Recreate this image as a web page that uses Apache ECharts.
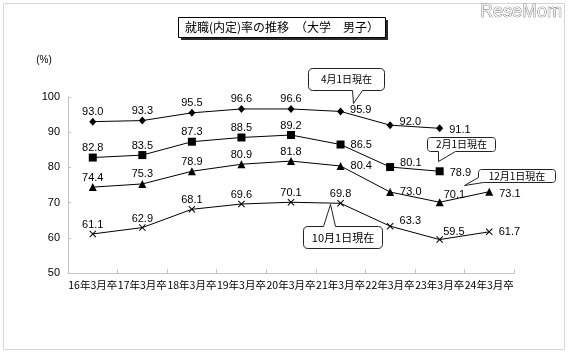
<!DOCTYPE html>
<html><head><meta charset="utf-8">
<script src="https://cdn.jsdelivr.net/npm/echarts@6/dist/echarts.min.js"></script>
<style>html,body{margin:0;padding:0;background:#fff}#c{width:570px;height:356px}</style>
</head><body><div id="c"></div>
<script>
// ---- data ----
const categories = ['16年3月卒','17年3月卒','18年3月卒','19年3月卒','20年3月卒','21年3月卒','22年3月卒','23年3月卒','24年3月卒'];
const april1 = [93.0, 93.3, 95.5, 96.6, 96.6, 95.9, 92.0, 91.1, null];
const feb1   = [82.8, 83.5, 87.3, 88.5, 89.2, 86.5, 80.1, 78.9, null];
const dec1   = [74.4, 75.3, 78.9, 80.9, 81.8, 80.4, 73.0, 70.1, 73.1];
const oct1   = [61.1, 62.9, 68.1, 69.6, 70.1, 69.8, 63.3, 59.5, 61.7];
const yMin = 50, yMax = 100, yInterval = 10;
const seriesNames = ['4月1日現在', '2月1日現在', '12月1日現在', '10月1日現在'];
const titleText = '就職(内定)率の推移　（大学　男子）';
const unitText = '(%)';

// ---- label placement (style) : 'T' above, else [dx,dy] offset for right-side label ----
const placeApr = ['T','T','T','T','T',[0,-1],[0,-3],[0,2],'T'];
const placeFeb = ['T','T','T','T','T',[0,0],[0,-4],[0,2],'T'];
const placeDec = ['T','T','T','T','T',[0,0],[0,0],[-6,-7],[0,2]];
const placeOct = ['T','T','T','T','T','T',[0,-5],[-6,-8],[0,0]];

const numFont = "'Liberation Sans Narrow','Liberation Sans',Arial,sans-serif";
const jpFont = "'Noto Sans CJK JP',sans-serif";

function items(values, place) {
  return values.map((v, i) => {
    if (v === null) return '-';
    const p = place[i];
    const label = p === 'T'
      ? { position: 'top', distance: 0 }
      : { position: 'right', distance: 6, offset: p };
    return { value: v, label };
  });
}

function mkSeries(name, values, place, symbol, size) {
  return {
    name, type: 'line', data: items(values, place),
    symbol, symbolSize: size, showAllSymbol: true,
    lineStyle: { color: '#000', width: 1 },
    itemStyle: { color: '#000' },
    label: { show: true, color: '#000', fontSize: 11, fontFamily: numFont,
             formatter: p => Number(p.value).toFixed(1) },
    z: 3, silent: true
  };
}

const crossPath = 'path://M0,1L1,0L5,4L9,0L10,1L6,5L10,9L9,10L5,6L1,10L0,9L4,5Z';

// rounded-box polygon with a tail
function corner(cx, cy, r, a0) {
  const out = [];
  for (let k = 0; k <= 4; k++) {
    const a = a0 + k * Math.PI / 8;
    out.push([cx + r * Math.cos(a), cy + r * Math.sin(a)]);
  }
  return out;
}
function calloutPoints(x, y, w, h, r, edge, pts) {
  const R = x + w, B = y + h, P = Math.PI;
  let out = [];
  out = out.concat(corner(x + r, y + r, r, P));          // top-left
  if (edge === 'top') out = out.concat(pts);
  out = out.concat(corner(R - r, y + r, r, -P / 2));      // top-right
  out = out.concat(corner(R - r, B - r, r, 0));           // bottom-right
  if (edge === 'bottom') out = out.concat(pts);
  if (edge === 'bl') { out = out.concat(pts); }
  else out = out.concat(corner(x + r, B - r, r, P / 2));  // bottom-left
  return out;
}

function txt(text, x, y, size, font, extra) {
  return {
    type: 'text', x, y, z: 20,
    style: Object.assign({ text, fontSize: size, fontFamily: font, fill: '#000',
      align: 'center', verticalAlign: 'middle', textAlign: 'center', textVerticalAlign: 'middle' }, extra || {})
  };
}

const callouts = [
  { text: seriesNames[0], box: [308, 68, 76, 22, 4], edge: 'bottom', pts: [[362, 90], [353, 103], [352, 90]], size: 10 },
  { text: seriesNames[1], box: [427, 137, 68, 14, 3], edge: 'bottom', pts: [[455, 151], [438, 161], [438, 151]], size: 10 },
  { text: seriesNames[2], box: [478, 169, 77, 13, 3], edge: 'bl', pts: [[483, 182], [464, 185], [478, 177]], size: 10 },
  { text: seriesNames[3], box: [303, 226, 79, 22, 4], edge: 'top', pts: [[323, 226], [330, 204], [335, 226]], size: 11 }
];

const graphics = [
  { type: 'rect', shape: { x: 3.5, y: 3.5, width: 561, height: 346 }, style: { fill: 'none', stroke: '#d6d6d6', lineWidth: 1 }, z: 0 },
  { type: 'rect', shape: { x: 181, y: 20, width: 207, height: 20 }, style: { fill: '#2a2a2a' }, z: 10 },
  { type: 'rect', shape: { x: 178.5, y: 17.5, width: 207, height: 20 }, style: { fill: '#fff', stroke: '#000', lineWidth: 1 }, z: 11 },
  txt(titleText, 282, 27.5, 12, jpFont),
  txt(unitText, 44, 60, 10, numFont),
  txt('ReseMom', 521, 12, 18, "'Liberation Sans',Arial,sans-serif", { fill: '#f2f2f2', stroke: '#555', lineWidth: 0.7 })
];
callouts.forEach(c => {
  const [x, y, w, h, r] = c.box;
  const pts = calloutPoints(x + 0.5, y + 0.5, w, h, r, c.edge, c.pts.map(q => [q[0] + 0.5, q[1] + 0.5]));
  graphics.push({ type: 'polygon', shape: { points: pts },
    style: { fill: '#fff', stroke: '#222', lineWidth: 1 }, z: 15 });
  graphics.push(txt(c.text, x + w / 2 + 0.5, y + h / 2 + 0.5, c.size, jpFont));
});

const chart = echarts.init(document.getElementById('c'), null, { renderer: 'canvas' });
chart.setOption({
  animation: false,
  backgroundColor: '#fff',
  grid: { left: 68, right: 56, top: 97, bottom: 83, containLabel: false },
  xAxis: {
    type: 'category', data: categories, boundaryGap: true,
    axisLine: { show: true, lineStyle: { color: '#c4c4c4', width: 1 } },
    axisTick: { show: true, inside: true, length: 4, lineStyle: { color: '#c4c4c4' } },
    axisLabel: { color: '#000', fontSize: 10.5, fontFamily: jpFont, margin: 7, interval: 0, hideOverlap: false },
    splitLine: { show: false }
  },
  yAxis: {
    type: 'value', min: yMin, max: yMax, interval: yInterval,
    axisLine: { show: true, lineStyle: { color: '#c4c4c4', width: 1 } },
    axisTick: { show: true, inside: true, length: 3, lineStyle: { color: '#c4c4c4' } },
    axisLabel: { color: '#000', fontSize: 11, fontFamily: numFont, margin: 8 },
    splitLine: { show: false }
  },
  series: [
    mkSeries(seriesNames[0], april1, placeApr, 'diamond', [7, 8]),
    mkSeries(seriesNames[1], feb1, placeFeb, 'rect', 8),
    mkSeries(seriesNames[2], dec1, placeDec, 'triangle', 8),
    mkSeries(seriesNames[3], oct1, placeOct, crossPath, 7)
  ],
  graphic: { elements: graphics }
});
</script>
</body></html>
